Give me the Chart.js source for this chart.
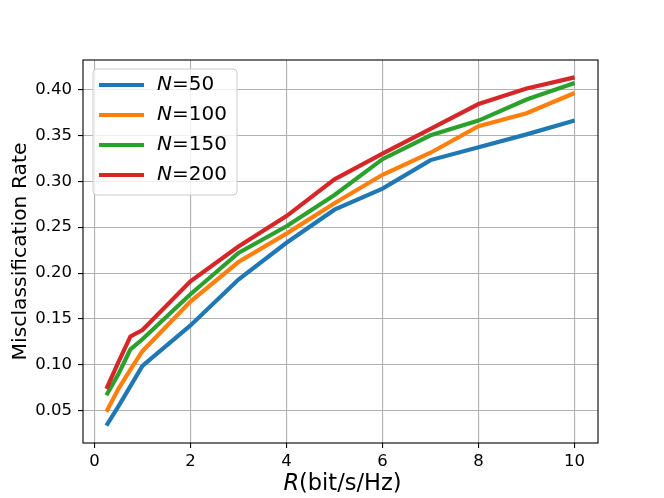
<!DOCTYPE html>
<html><head><meta charset="utf-8">
<script src="https://cdn.jsdelivr.net/npm/chart.js@4.4.0/dist/chart.umd.min.js"></script>
<style>html,body{margin:0;padding:0;background:#fff;overflow:hidden}canvas{display:block}</style>
</head><body>
<canvas id="c" width="664" height="498"></canvas>
<script>
const rValues = [0.25, 0.5, 0.75, 1, 2, 3, 4, 5, 6, 7, 8, 9, 10];
const seriesNames = ['50', '100', '150', '200'];
const n50  = [0.034, 0.055, 0.077, 0.099, 0.143, 0.193, 0.233, 0.269, 0.292, 0.323, 0.337, 0.351, 0.366];
const n100 = [0.049, 0.074, 0.095, 0.115, 0.169, 0.212, 0.243, 0.276, 0.307, 0.331, 0.360, 0.374, 0.396];
const n150 = [0.067, 0.090, 0.117, 0.128, 0.177, 0.222, 0.251, 0.285, 0.324, 0.350, 0.366, 0.389, 0.407];
const n200 = [0.074, 0.103, 0.131, 0.138, 0.191, 0.229, 0.262, 0.302, 0.330, 0.357, 0.384, 0.401, 0.413];
const xTicks = [0, 2, 4, 6, 8, 10];
const yTicks = [0.05, 0.10, 0.15, 0.20, 0.25, 0.30, 0.35, 0.40];
const xTitleVar = 'R';
const xTitleUnit = '(bit/s/Hz)';
const yTitle = 'Misclassification Rate';
const colors = ['#1f77b4', '#ff7f0e', '#2ca02c', '#d62728'];

const allSeries = [n50, n100, n150, n200];
const FONT = "'DejaVu Sans', sans-serif";

function margins(lo, hi) { const m = (hi - lo) * 0.05; return [lo - m, hi + m]; }
const [xMin, xMax] = margins(Math.min(...rValues), Math.max(...rValues));
const flat = allSeries.flat();
const [yMin, yMax] = margins(Math.min(...flat), Math.max(...flat));

const datasets = allSeries.map((s, i) => ({
  label: 'N=' + seriesNames[i],
  data: rValues.map((x, j) => ({ x: x, y: s[j] })),
  borderColor: colors[i],
  backgroundColor: colors[i],
  borderWidth: 4.2,
  pointRadius: 0,
  fill: false,
  tension: 0,
  order: allSeries.length - 1 - i
}));

const framePlugin = {
  id: 'frameLegend',
  afterDatasetsDraw(chart) {
    const ctx = chart.ctx, a = chart.chartArea;
    ctx.save();
    ctx.strokeStyle = '#000';
    ctx.lineWidth = 1.1;
    ctx.strokeRect(a.left, a.top, a.right - a.left, a.bottom - a.top);
    // legend box
    const lx = a.left + 10, ly = a.top + 9, lw = 144, lh = 126, r = 4;
    ctx.beginPath();
    ctx.moveTo(lx + r, ly);
    ctx.lineTo(lx + lw - r, ly);
    ctx.quadraticCurveTo(lx + lw, ly, lx + lw, ly + r);
    ctx.lineTo(lx + lw, ly + lh - r);
    ctx.quadraticCurveTo(lx + lw, ly + lh, lx + lw - r, ly + lh);
    ctx.lineTo(lx + r, ly + lh);
    ctx.quadraticCurveTo(lx, ly + lh, lx, ly + lh - r);
    ctx.lineTo(lx, ly + r);
    ctx.quadraticCurveTo(lx, ly, lx + r, ly);
    ctx.closePath();
    ctx.fillStyle = 'rgba(255,255,255,0.8)';
    ctx.fill();
    ctx.strokeStyle = '#cccccc';
    ctx.lineWidth = 1;
    ctx.stroke();
    chart.data.datasets.forEach((ds, i) => {
      const cy = ly + 16 + i * 30;
      ctx.strokeStyle = ds.borderColor;
      ctx.lineWidth = 4.2;
      ctx.lineCap = 'butt';
      ctx.beginPath();
      ctx.moveTo(lx + 6, cy);
      ctx.lineTo(lx + 51, cy);
      ctx.stroke();
      ctx.fillStyle = '#000';
      ctx.textBaseline = 'middle';
      ctx.textAlign = 'left';
      ctx.font = 'italic 20px ' + FONT;
      ctx.fillText('N', lx + 64, cy);
      const w = ctx.measureText('N').width;
      ctx.font = '20px ' + FONT;
      ctx.fillText('=' + seriesNames[i], lx + 64 + w, cy);
    });
    // axis titles
    ctx.fillStyle = '#000';
    ctx.textBaseline = 'alphabetic';
    ctx.textAlign = 'left';
    ctx.font = 'italic 22.5px ' + FONT;
    const wR = ctx.measureText(xTitleVar).width;
    ctx.font = '22.5px ' + FONT;
    const wU = ctx.measureText(xTitleUnit).width;
    const cx = (a.left + a.right) / 2 + 2;
    const x0 = cx - (wR + wU) / 2;
    ctx.font = 'italic 22.5px ' + FONT;
    ctx.fillText(xTitleVar, x0, 490);
    ctx.font = '22.5px ' + FONT;
    ctx.fillText(xTitleUnit, x0 + wR, 490);
    ctx.translate(25.5, (a.top + a.bottom) / 2);
    ctx.rotate(-Math.PI / 2);
    ctx.textAlign = 'center';
    ctx.font = '20.3px ' + FONT;
    ctx.fillText(yTitle, 0, 0);
    ctx.restore();
  }
};

new Chart(document.getElementById('c'), {
  type: 'line',
  data: { datasets: datasets },
  options: {
    responsive: false,
    animation: false,
    devicePixelRatio: 1,
    layout: { padding: { left: 0, right: 66, top: 60, bottom: 0 } },
    plugins: { legend: { display: false }, tooltip: { enabled: false } },
    scales: {
      x: {
        type: 'linear',
        min: xMin, max: xMax,
        afterBuildTicks: s => { s.ticks = xTicks.map(v => ({ value: v })); },
        afterFit: s => { s.height = 55; },
        border: { display: false },
        grid: { color: '#b0b0b0', lineWidth: 1.1, tickLength: 5, tickColor: '#000', tickWidth: 1.1 },
        ticks: { color: '#000', font: { family: FONT, size: 16.5 }, padding: 4, maxRotation: 0,
                 callback: v => String(v) },
        title: { display: false }
      },
      y: {
        type: 'linear',
        min: yMin, max: yMax,
        afterBuildTicks: s => { s.ticks = yTicks.map(v => ({ value: v })); },
        afterFit: s => { s.width = 83; },
        border: { display: false },
        grid: { color: '#b0b0b0', lineWidth: 1.1, tickLength: 5, tickColor: '#000', tickWidth: 1.1 },
        ticks: { color: '#000', font: { family: FONT, size: 16.5 }, padding: 6,
                 callback: v => v.toFixed(2) },
        title: { display: false }
      }
    }
  },
  plugins: [framePlugin]
});
</script>
</body></html>
